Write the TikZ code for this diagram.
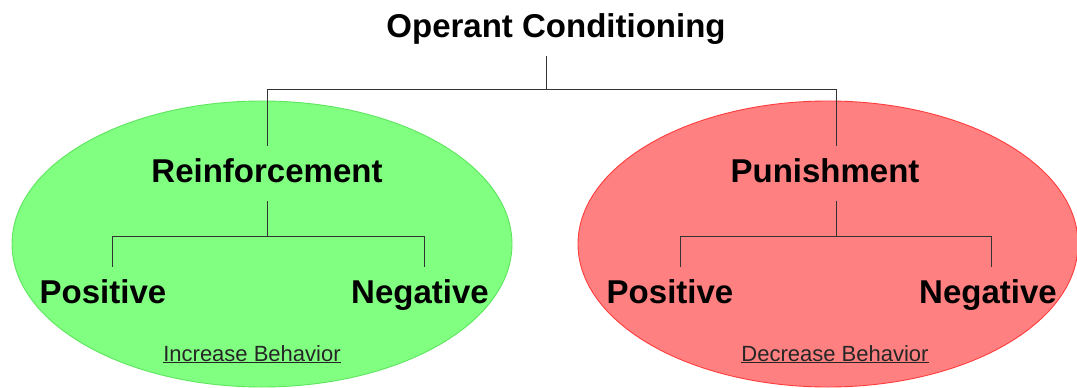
\documentclass[tikz,border=0pt]{standalone}
\usepackage{fontspec}
\setmainfont{Liberation Sans}
\usepackage{tikz}
\usetikzlibrary{shapes.geometric}
\definecolor{reinfgreen}{HTML}{80FF80}
\definecolor{reinfedge}{HTML}{5EE65E}
\definecolor{punred}{HTML}{FF8080}
\definecolor{punedge}{HTML}{FF3C3C}
\definecolor{linkgray}{HTML}{333333}

\begin{document}
\begin{tikzpicture}[x=1pt, y=-1pt,
	zone/.style={ellipse, inner sep=0pt, minimum width=500pt, minimum height=286pt, line width=0.9pt},
	lbl/.style={font=\bfseries\fontsize{33}{36}\selectfont, anchor=base, text height=24pt, text depth=7pt, inner ysep=12pt, inner xsep=0pt},
	effect/.style={font=\fontsize{22}{24}\selectfont, anchor=base, text=black!85},
	link/.style={draw=linkgray, line width=1pt}]
	\useasboundingbox (0,0) rectangle (1077,388);
	\node[zone, fill=reinfgreen, draw=reinfedge] (reinfzone) at (262,244) {};
	\node[zone, fill=punred, draw=punedge] (punzone) at (828,244) {};
	\node[lbl] (title) at (556,37) {Operant Conditioning};
	\node[lbl] (reinf) at (267,182) {Reinforcement};
	\node[lbl] (punish) at (825,182) {Punishment};
	\node[lbl] (rpos) at (103,303) {Positive};
	\node[lbl] (rneg) at (420,303) {Negative};
	\node[lbl] (ppos) at (670,303) {Positive};
	\node[lbl] (pneg) at (988,303) {Negative};
	\node[effect] (incr) at (252,361) {\underline{Increase Behavior}};
	\node[effect] (decr) at (835,361) {\underline{Decrease Behavior}};
	% tree connectors
	\draw[link] ([xshift=-10pt]title.south) -- ++(0,33) coordinate (split) -| (reinf.north);
	\draw[link] (split) -| ([xshift=11pt]punish.north);
	\draw[link] (reinf.south) -- ++(0,35) coordinate (rsplit) -| ([xshift=9pt]rpos.north);
	\draw[link] (rsplit) -| ([xshift=4pt]rneg.north);
	\draw[link] ([xshift=11pt]punish.south) -- ++(0,35) coordinate (psplit) -| ([xshift=10pt]ppos.north);
	\draw[link] (psplit) -| ([xshift=3pt]pneg.north);
\end{tikzpicture}
\end{document}
